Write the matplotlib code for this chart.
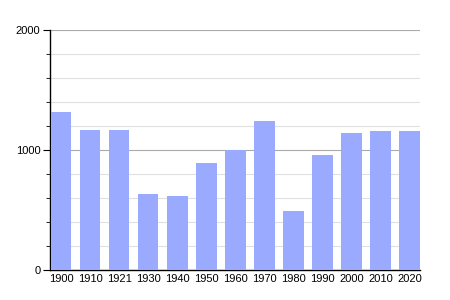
import numpy as np
import matplotlib.pyplot as plt
from matplotlib.ticker import MultipleLocator

years = ["1900", "1910", "1921", "1930", "1940", "1950", "1960",
         "1970", "1980", "1990", "2000", "2010", "2020"]
population = [1317, 1167, 1167, 633, 617, 892, 1003,
              1242, 492, 958, 1142, 1158, 1158]

plt.rcParams['font.family'] = ['Liberation Sans', 'DejaVu Sans']

fig = plt.figure(figsize=(4.5, 3), dpi=100)
ax = fig.add_axes([50/450, 0.1, 370/450, 0.8])

x = np.arange(len(years))
ax.bar(x, population, width=0.71, color="#99aaff", zorder=3)

ax.set_xlim(-0.38, 12.36)
ax.set_ylim(0, 2000)
ax.set_xticks(x)
ax.set_xticklabels(years)
ax.yaxis.set_major_locator(MultipleLocator(1000))
ax.yaxis.set_minor_locator(MultipleLocator(200))

ax.grid(axis="y", which="minor", color="#e0e0e0", linewidth=0.8, zorder=0)
ax.grid(axis="y", which="major", color="#aaaaaa", linewidth=0.8, zorder=1)

for side in ("top", "right"):
    ax.spines[side].set_visible(False)
ax.spines["left"].set_linewidth(1)
ax.spines["bottom"].set_linewidth(1)

ax.tick_params(axis="x", length=0, labelsize=8, pad=3)
ax.tick_params(axis="y", which="major", length=5, labelsize=8, pad=2)
ax.tick_params(axis="y", which="minor", length=3)

fig.savefig("out.png", dpi=100)
